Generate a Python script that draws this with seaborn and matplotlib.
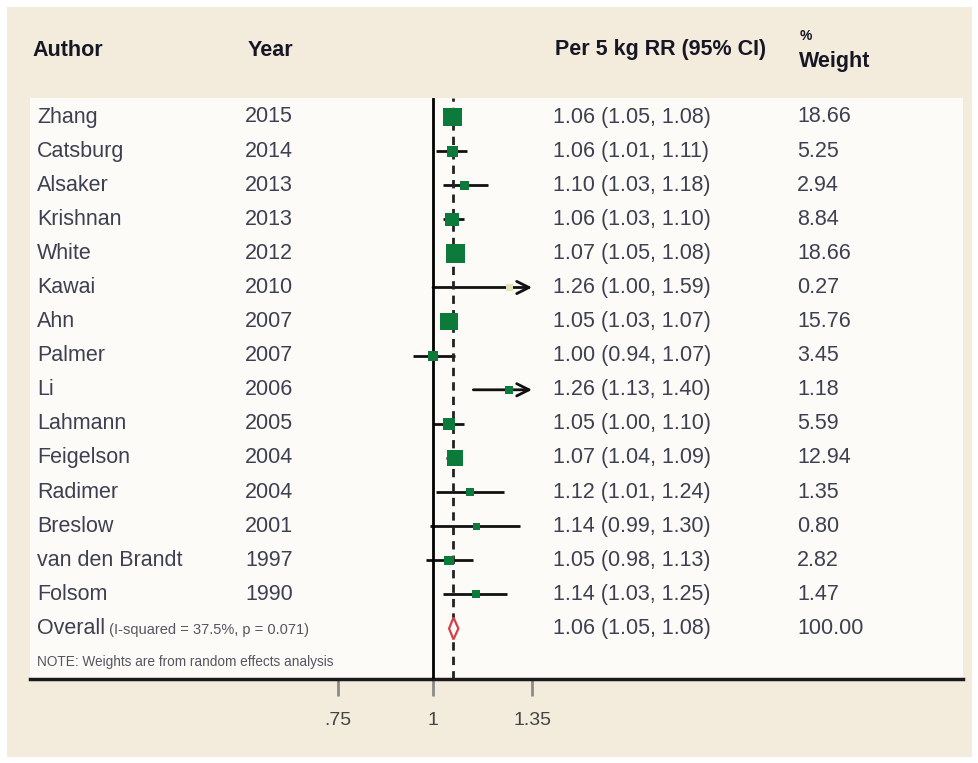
import numpy as np
import pandas as pd
import seaborn as sns
import matplotlib.pyplot as plt
import matplotlib.transforms as mtrans
from matplotlib.patches import Rectangle

authors = ["Zhang", "Catsburg", "Alsaker", "Krishnan", "White", "Kawai", "Ahn", "Palmer",
           "Li", "Lahmann", "Feigelson", "Radimer", "Breslow", "van den Brandt", "Folsom"]
years = [2015, 2014, 2013, 2013, 2012, 2010, 2007, 2007, 2006, 2005, 2004, 2004, 2001, 1997, 1990]
rr = [1.06, 1.06, 1.10, 1.06, 1.07, 1.26, 1.05, 1.00, 1.26, 1.05, 1.07, 1.12, 1.14, 1.05, 1.14]
ci_lo = [1.05, 1.01, 1.03, 1.03, 1.05, 1.00, 1.03, 0.94, 1.13, 1.00, 1.04, 1.01, 0.99, 0.98, 1.03]
ci_hi = [1.08, 1.11, 1.18, 1.10, 1.08, 1.59, 1.07, 1.07, 1.40, 1.10, 1.09, 1.24, 1.30, 1.13, 1.25]
weights = [18.66, 5.25, 2.94, 8.84, 18.66, 0.27, 15.76, 3.45, 1.18, 5.59, 12.94, 1.35, 0.80, 2.82, 1.47]

overall_rr, overall_lo, overall_hi, overall_w = 1.064, 1.05, 1.08, 100.00
i2_text = "(I-squared = 37.5%, p = 0.071)"
note_text = "NOTE: Weights are from random effects analysis"

ticks = [0.75, 1, 1.35]
tick_labels = [".75", "1", "1.35"]

green = "#0b7a3b"
marker_colors = [green] * len(authors)
marker_colors[authors.index("Kawai")] = "#e4e0b8"

df = pd.DataFrame({"author": authors, "year": years, "rr": rr, "lo": ci_lo, "hi": ci_hi,
                   "weight": weights})
df["row"] = np.arange(len(df))

sns.set_style("white")
plt.rcParams["font.family"] = ["Liberation Sans", "DejaVu Sans"]

W, H = 979, 763
fig = plt.figure(figsize=(W / 100, H / 100), dpi=100, facecolor="white")

# beige card behind everything
fig.patches.append(Rectangle((7 / W, 1 - 757 / H), 965 / W, 750 / H, transform=fig.transFigure,
                             facecolor="#f3ecdd", edgecolor="none", zorder=-5))

ax = fig.add_axes([30 / W, 1 - 679 / H, 933 / W, 581 / H])
ax.set_zorder(1)
ax.set_facecolor("#fdfbf7")
ax.set_xscale("log")
ax.set_xlim(np.exp((30 - 433) / 330), np.exp((963 - 433) / 330))
ax.set_ylim((679 - 117) / 34.1, -(117 - 98) / 34.1)

txt_col = "#3d4050"
head_col = "#161625"
clip_hi = ticks[-1]

# confidence intervals, clipped at the axis limit with an arrow
for _, r in df.iterrows():
    if r["hi"] > clip_hi:
        ax.annotate("", xy=(clip_hi, r["row"]), xytext=(r["lo"], r["row"]),
                    arrowprops=dict(arrowstyle="->", lw=2, color="#111111", mutation_scale=22,
                                    shrinkA=0, shrinkB=0), zorder=2)
    else:
        ax.plot([r["lo"], r["hi"]], [r["row"], r["row"]], color="#111111", lw=2, zorder=2,
                solid_capstyle="butt")

sns.scatterplot(data=df, x="rr", y="row", hue="author", palette=dict(zip(authors, marker_colors)),
                size="weight", sizes=(20, 180), size_norm=(0, max(weights)), marker="s",
                linewidth=0, legend=False, ax=ax, zorder=4)

ax.axvline(1, color="black", lw=2, zorder=3)
ax.axvline(overall_rr, color="#222222", lw=2, ls=(0, (3, 2.2)), zorder=3)

# overall diamond
oy = len(df)
dh = 0.32
ax.fill([overall_lo, overall_rr, overall_hi, overall_rr, overall_lo],
        [oy, oy - dh, oy, oy + dh, oy], facecolor="#fdfbf7", edgecolor="#d2404c", lw=1.6, zorder=4)

ax.set_xticks(ticks)
ax.set_xticklabels(tick_labels)
ax.minorticks_off()
ax.set_yticks([])
ax.tick_params(axis="x", bottom=True, length=12, width=2, color="#8a8a8a", pad=12, labelsize=14,
               labelcolor="#444444")
ax.xaxis.get_major_ticks()[1].tick1line.set_color("black")
for s in ["top", "left", "right"]:
    ax.spines[s].set_visible(False)
ax.spines["bottom"].set_linewidth(2.5)
ax.spines["bottom"].set_color("#1a1a1a")
ax.set_xlabel("")
ax.set_ylabel("")

blend = mtrans.blended_transform_factory(ax.transAxes, ax.transData)
col_x = [(37 - 30) / 933, (245 - 30) / 933, (553 - 30) / 933, (797 - 30) / 933]
for _, r in df.iterrows():
    cells = [r["author"], str(r["year"]), f"{r['rr']:.2f} ({r['lo']:.2f}, {r['hi']:.2f})",
             f"{r['weight']:.2f}"]
    for xx, s in zip(col_x, cells):
        ax.text(xx, r["row"], s, transform=blend, fontsize=15.5, color=txt_col, va="center")

t_over = ax.text(col_x[0], oy, "Overall", transform=blend, fontsize=15.5, color=txt_col, va="center")
ax.annotate(" " + i2_text, xy=(1, 0.08), xycoords=t_over, fontsize=10.5, color="#555560",
            va="bottom", ha="left")
ax.text(col_x[2], oy, f"{overall_rr:.2f} ({overall_lo:.2f}, {overall_hi:.2f})", transform=blend,
        fontsize=15.5, color=txt_col, va="center")
ax.text(col_x[3], oy, f"{overall_w:.2f}", transform=blend, fontsize=15.5, color=txt_col, va="center")
ax.text(col_x[0], (662 - 117) / 34.1, note_text, transform=blend, fontsize=9.8, color="#555560",
        va="center")

# header
hdr = dict(fontsize=15.5, fontweight="bold", color=head_col, va="center")
fig.text(32 / W, 1 - 50 / H, "Author", **hdr)
fig.text(248 / W, 1 - 50 / H, "Year", **hdr)
fig.text(555 / W, 1 - 50 / H, "Per 5 kg RR (95% CI)", **hdr)
fig.text(800 / W, 1 - 36 / H, "%", fontsize=10, fontweight="bold", color=head_col, va="center")
fig.text(799 / W, 1 - 62 / H, "Weight", **hdr)

plt.savefig("out.png", dpi=100, facecolor="white")
